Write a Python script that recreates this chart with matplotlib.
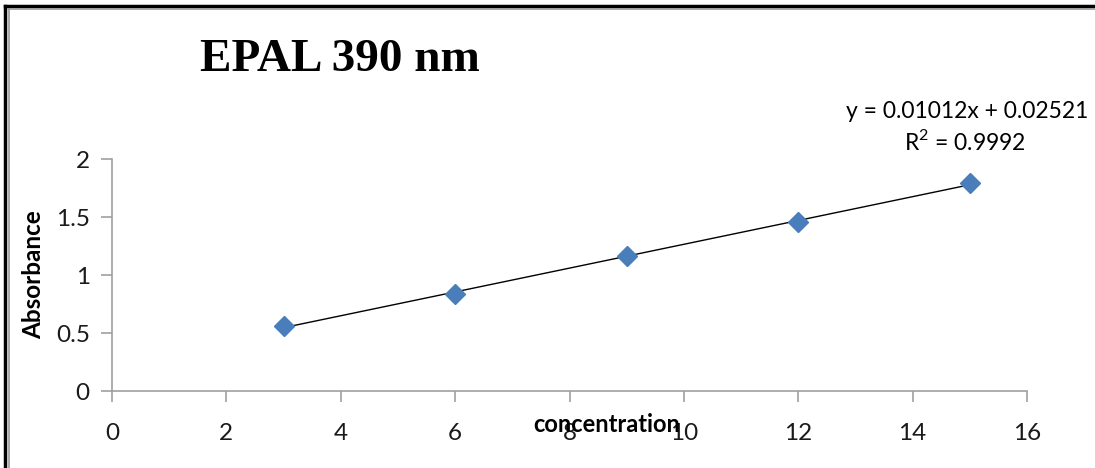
import numpy as np
import matplotlib
matplotlib.use('Agg')
import matplotlib.pyplot as plt
from matplotlib.lines import Line2D

# 数据
concentration = [3, 6, 9, 12, 15]
absorbance = [0.56, 0.84, 1.16, 1.46, 1.79]
x_ticks = [0, 2, 4, 6, 8, 10, 12, 14, 16]
y_ticks = [0, 0.5, 1, 1.5, 2]
y_tick_labels = ['0', '0.5', '1', '1.5', '2']
title = 'EPAL 390 nm'
eq_text = 'y = 0.01012x + 0.02521'
r2_text = 'R$^2$ = 0.9992'

plt.rcParams['font.family'] = ['Lato', 'DejaVu Sans']
plt.rcParams['mathtext.fontset'] = 'custom'
plt.rcParams['mathtext.rm'] = 'Lato'

fig = plt.figure(figsize=(10.95, 4.68), dpi=100)
ax = fig.add_axes([112 / 1095, 1 - 391 / 468, (1027 - 112) / 1095, (391 - 159) / 468])

# 趋势线
slope, intercept = np.polyfit(concentration, absorbance, 1)
xs = np.array([concentration[0], concentration[-1]])
ax.plot(xs, slope * xs + intercept, color='black', lw=1.0, zorder=2)
ax.plot(concentration, absorbance, 'D', color='#4A7EBB', ms=10, mec='#4A7EBB', zorder=3)

ax.set_xlim(0, 16)
ax.set_ylim(0, 2)
ax.set_xticks(x_ticks)
ax.set_yticks(y_ticks)
ax.set_yticklabels(y_tick_labels)
for s in ['top', 'right']:
    ax.spines[s].set_visible(False)
for s in ['left', 'bottom']:
    ax.spines[s].set_color('#A0A0A0')
    ax.spines[s].set_linewidth(1.2)
ax.tick_params(axis='both', colors='#A0A0A0', length=8, width=1.2, labelsize=17.5,
               labelcolor='#1a1a1a', pad=15)
ax.tick_params(axis='y', pad=8)

# 与原图一样，横轴标题压在刻度数字上
ax.set_xlabel('concentration', fontsize=17, fontweight='bold')
ax.xaxis.set_label_coords((607 - 112) / 915, -(424 - 391) / 232)
ax.xaxis.label.set_va('center')
ax.set_ylabel('Absorbance', fontsize=17.5, fontweight='bold', labelpad=8)

fig.text(200 / 1095, 1 - 60 / 468, title, fontsize=34, fontweight='bold',
         family='Liberation Serif', va='center', ha='left')
fig.text(967 / 1095, 1 - 112 / 468, eq_text, fontsize=16.5, ha='center', va='center')
fig.text(965 / 1095, 1 - 142 / 468, r2_text, fontsize=16.5, ha='center', va='center')

# 外框
fig.add_artist(Line2D([5 / 1095, 5 / 1095], [0, 1 - 6 / 468], transform=fig.transFigure, color='black', lw=2.5))
fig.add_artist(Line2D([8.5 / 1095, 8.5 / 1095], [0, 1 - 9 / 468], transform=fig.transFigure, color='#999999', lw=1.2))
fig.add_artist(Line2D([5 / 1095, 1], [1 - 6 / 468, 1 - 6 / 468], transform=fig.transFigure, color='black', lw=2.5))
fig.add_artist(Line2D([8.5 / 1095, 1], [1 - 9 / 468, 1 - 9 / 468], transform=fig.transFigure, color='#999999', lw=1.2))

fig.savefig('out.png', dpi=100)
